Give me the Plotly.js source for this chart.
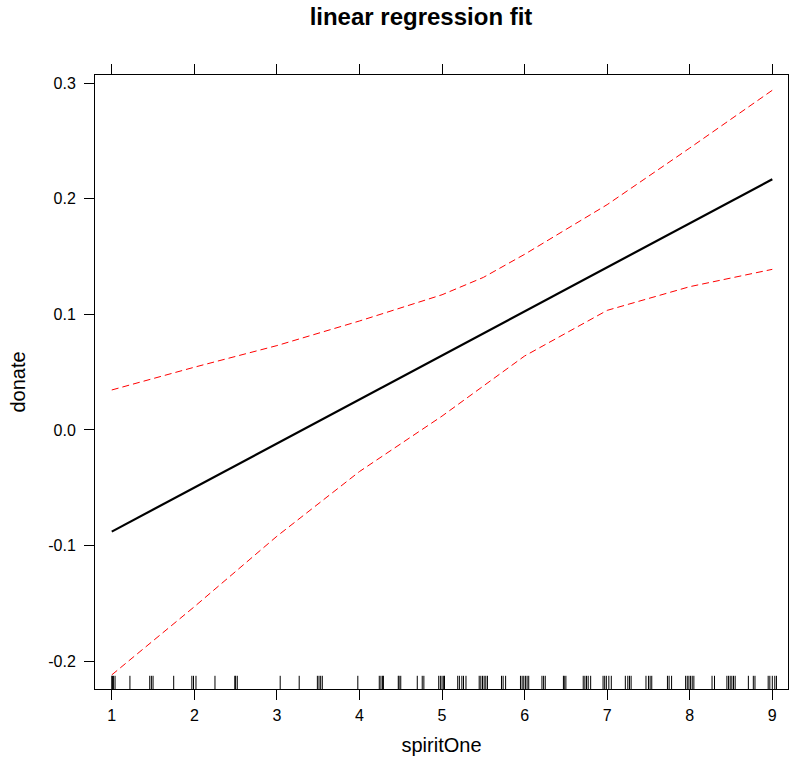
<!DOCTYPE html>
<html>
<head>
<meta charset="utf-8">
<script src="https://cdn.plot.ly/plotly-3.0.1.min.js"></script>
<style>html,body{margin:0;padding:0;background:#fff;}#chart{width:789px;height:763px;}</style>
</head>
<body>
<div id="chart"></div>
<script>
// Fitted line (endpoints of linear fit)
const fitX = [1, 9];
const fitY = [-0.088, 0.217];

// Confidence band (dashed red), read at grid points
const bandX = [1, 2, 3, 4, 5, 5.5, 6, 7, 8, 9];
const upperY = [0.0346, 0.0543, 0.073, 0.0943, 0.117, 0.132, 0.152, 0.195, 0.244, 0.294];
const lowerY = [-0.212, -0.153, -0.092, -0.036, 0.012, 0.038, 0.064, 0.1035, 0.124, 0.139];

// Rug of observed spiritOne values
const rugX = [
  1.0, 1.01, 1.02, 1.04, 1.22, 1.46, 1.48, 1.50, 1.75, 1.97, 1.99, 2.02, 2.25,
  2.49, 2.50, 2.52, 3.04, 3.27, 3.49, 3.51, 3.53, 3.55, 3.98,
  4.24, 4.26, 4.28, 4.29, 4.47, 4.48, 4.50, 4.70, 4.76, 4.78,
  4.96, 4.98, 5.00, 5.02, 5.03, 5.19, 5.21, 5.24, 5.26, 5.29,
  5.45, 5.47, 5.49, 5.51, 5.53, 5.55, 5.72, 5.74, 5.77,
  5.95, 5.97, 5.99, 6.01, 6.03, 6.05, 6.21, 6.23, 6.25, 6.47, 6.48, 6.50,
  6.71, 6.73, 6.75, 6.77, 6.80, 6.95, 6.97, 6.99, 7.02, 7.05,
  7.22, 7.25, 7.27, 7.29, 7.47, 7.50, 7.52, 7.54, 7.73, 7.75, 7.78,
  7.95, 7.97, 7.99, 8.01, 8.03, 8.05, 8.27, 8.30,
  8.45, 8.47, 8.49, 8.51, 8.53, 8.55, 8.71, 8.77, 8.79,
  8.95, 8.97, 9.00, 9.03, 9.05
];

const xTicks = [1, 2, 3, 4, 5, 6, 7, 8, 9];
const yTicks = [-0.2, -0.1, 0.0, 0.1, 0.2, 0.3];
const yTickText = ["-0.2", "-0.1", "0.0", "0.1", "0.2", "0.3"];

const rugLen = 0.0215;
const rugXs = [], rugYs = [];
rugX.forEach(v => { rugXs.push(v, v, null); rugYs.push(0, rugLen, null); });

const font = "Liberation Sans, Arial, Helvetica, sans-serif";

const traces = [
  {x: rugXs, y: rugYs, yaxis: 'y2', mode: 'lines', line: {color: '#000', width: 1}, hoverinfo: 'skip', showlegend: false},
  {x: bandX, y: upperY, mode: 'lines', line: {color: '#ff0000', width: 1, dash: '7px,4px'}, showlegend: false},
  {x: bandX, y: lowerY, mode: 'lines', line: {color: '#ff0000', width: 1, dash: '7px,4px'}, showlegend: false},
  {x: fitX, y: fitY, mode: 'lines', line: {color: '#000', width: 2.2}, showlegend: false}
];

const layout = {
  width: 789, height: 763,
  margin: {l: 95, r: 1, t: 75, b: 74},
  paper_bgcolor: '#fff', plot_bgcolor: '#fff',
  font: {family: font, color: '#000', size: 16},
  showlegend: false,
  title: {text: '<b>linear regression fit</b>', font: {family: font, size: 24, color: '#000'},
          xref: 'container', x: 421/789, xanchor: 'center', yref: 'container', y: 1 - 17/763, yanchor: 'middle'},
  xaxis: {
    range: [0.797, 9.19], tickvals: xTicks, ticktext: xTicks.map(String),
    ticks: 'outside', ticklen: 10, tickwidth: 1, tickcolor: '#000',
    showline: true, linecolor: '#000', linewidth: 1, mirror: 'ticks',
    showgrid: false, zeroline: false, tickfont: {size: 16}, ticklabelstandoff: 2,
    title: {text: 'spiritOne', font: {size: 20}, standoff: 14}
  },
  yaxis: {
    range: [-0.2242, 0.3072], tickvals: yTicks, ticktext: yTickText,
    ticks: 'outside', ticklen: 10, tickwidth: 1, tickcolor: '#000',
    showline: true, linecolor: '#000', linewidth: 1, mirror: true,
    showgrid: false, zeroline: false, tickfont: {size: 16}, ticklabelstandoff: 5,
    title: {text: 'donate', font: {size: 20}, standoff: 17}
  },
  yaxis2: {overlaying: 'y', range: [0, 1], visible: false, fixedrange: true}
};

Plotly.newPlot('chart', traces, layout, {displayModeBar: false, staticPlot: true});
</script>
</body>
</html>
